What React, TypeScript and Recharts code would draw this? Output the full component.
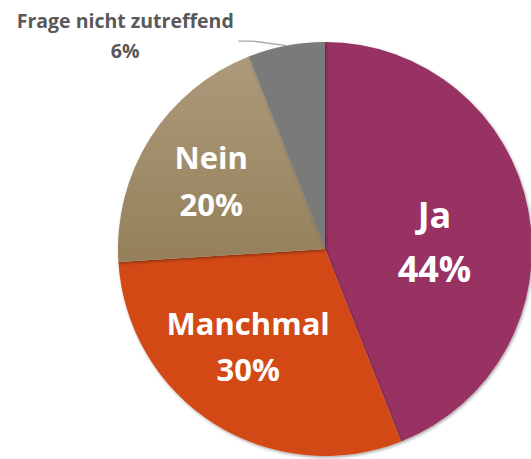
import { Cell, Pie, PieChart } from "recharts";

const categories = ["Ja", "Manchmal", "Nein", "Frage nicht zutreffend"];
const shares = [44, 30, 20, 6];
const colors = ["#983262", "#D24A17", "url(#neinFill)", "#7A7A7A"];

const data = categories.map((name, i) => ({ name, value: shares[i] }));

const RAD = Math.PI / 180;
const FONT = "'Open Sans', sans-serif";
// where the inside labels sit: radius fraction, angle shift from the slice middle, font size
const inside = [
  { r: 0.53, da: -7.2, fs: 36 },
  { r: 0.6, da: -5.8, fs: 31 },
  { r: 0.64, da: 1.6, fs: 31 },
];

function renderLabel(props: any) {
  const { cx, cy, midAngle, outerRadius, index, name, value } = props;
  if (index < 3) {
    const p = inside[index];
    const a = (midAngle + p.da) * RAD;
    const x = cx + outerRadius * p.r * Math.cos(a);
    const y = cy - outerRadius * p.r * Math.sin(a);
    const base = y - 0.39 * p.fs;
    return (
      <text textAnchor="middle" fill="#fff" fontFamily={FONT} fontWeight={700} fontSize={p.fs}>
        <tspan x={x} y={base}>{name}</tspan>
        <tspan x={x} y={base + 1.5 * p.fs}>{value}%</tspan>
      </text>
    );
  }
  const ex = cx + outerRadius * Math.cos(-midAngle * RAD);
  const ey = cy + outerRadius * Math.sin(-midAngle * RAD);
  const kx = ex - 33;
  const ky = ey - 4.5;
  const tx = kx - 128;
  return (
    <g>
      <polyline
        points={`${ex},${ey} ${kx},${ky} ${kx - 15},${ky}`}
        fill="none"
        stroke="#A6A6A6"
        strokeWidth={1.3}
      />
      <text textAnchor="middle" fill="#595959" fontFamily={FONT} fontWeight={700} fontSize={19.5}>
        <tspan x={tx} y={ky - 13}>{name}</tspan>
        <tspan x={tx} y={ky + 17}>{value}%</tspan>
      </text>
    </g>
  );
}

export default function App() {
  return (
    <div style={{ position: "absolute", left: 0, top: 0, width: 531, height: 459, background: "#fff" }}>
      <PieChart width={531} height={459} margin={{ top: 0, right: 0, bottom: 0, left: 0 }}>
        <defs>
          <linearGradient id="neinFill" x1="0" y1="0" x2="0" y2="1">
            <stop offset="0%" stopColor="#AC9A7B" />
            <stop offset="100%" stopColor="#95805A" />
          </linearGradient>
          <filter id="pieShadow" x="-10%" y="-10%" width="120%" height="120%">
            <feDropShadow dx="1" dy="1.5" stdDeviation="1.5" floodColor="#000" floodOpacity="0.35" />
          </filter>
        </defs>
        <Pie
          data={data}
          dataKey="value"
          nameKey="name"
          cx={325}
          cy={249}
          outerRadius={207}
          startAngle={90}
          endAngle={-270}
          stroke="none"
          label={renderLabel}
          labelLine={false}
          isAnimationActive={false}
        >
          {data.map((d, i) => (
            <Cell key={d.name} fill={colors[i]} filter="url(#pieShadow)" />
          ))}
        </Pie>
      </PieChart>
    </div>
  );
}
